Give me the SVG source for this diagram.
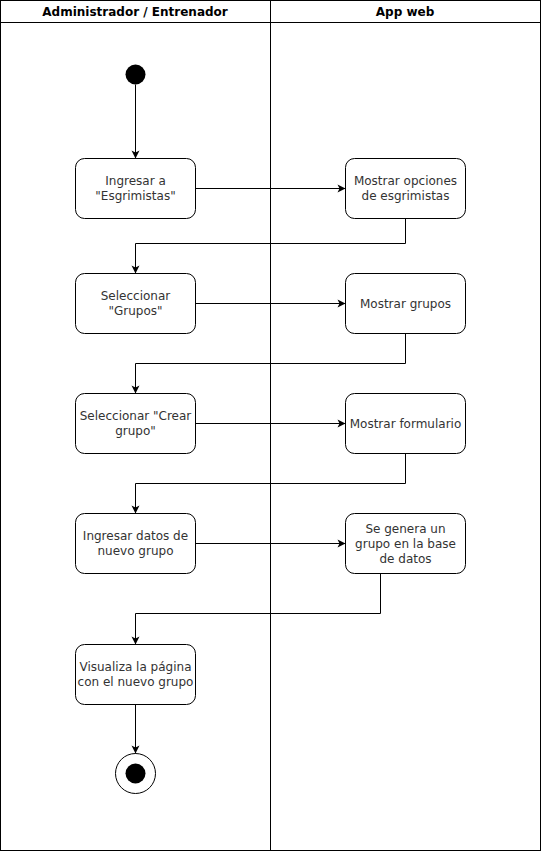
<svg xmlns="http://www.w3.org/2000/svg" width="541" height="851" viewBox="0 0 541 851">
<defs>
<marker id="arr" markerWidth="10" markerHeight="10" refX="9" refY="5" orient="auto" markerUnits="userSpaceOnUse">
<path d="M1,1 L9,5 L1,9 L3,5 Z" fill="#000"/>
</marker>
<style>
.lane{fill:#fff;stroke:#000;stroke-width:1}
.hdr{font-family:"DejaVu Sans",Verdana,sans-serif;font-size:12px;font-weight:bold;fill:#000;text-anchor:middle}
.node rect{fill:#fff;stroke:#000;stroke-width:1}
.node text{font-family:"DejaVu Sans",Verdana,sans-serif;font-size:12px;fill:#333;text-anchor:middle}
.conn path{fill:none;stroke:#000;stroke-width:1;marker-end:url(#arr)}
</style>
</defs>
<g id="swimlane">
<rect class="lane" x="0.5" y="0.5" width="540" height="850"/>
<line x1="0.5" y1="22.5" x2="540.5" y2="22.5" stroke="#000"/>
<line x1="270.5" y1="0.5" x2="270.5" y2="850.5" stroke="#000"/>
<text class="hdr" x="135" y="15.5">Administrador / Entrenador</text>
<text class="hdr" x="405" y="15.5">App web</text>
</g>
<g id="start"><circle cx="135.5" cy="74.5" r="10" fill="#000"/></g>
<g id="n1" class="node"><rect x="75.5" y="158.5" width="120" height="60" rx="9"/><text x="135.5" y="185">Ingresar a</text><text x="135.5" y="200">"Esgrimistas"</text></g>
<g id="n2" class="node"><rect x="345.5" y="158.5" width="120" height="60" rx="9"/><text x="405.5" y="185">Mostrar opciones</text><text x="405.5" y="200">de esgrimistas</text></g>
<g id="n3" class="node"><rect x="75.5" y="273.5" width="120" height="60" rx="9"/><text x="135.5" y="300">Seleccionar</text><text x="135.5" y="315">"Grupos"</text></g>
<g id="n4" class="node"><rect x="345.5" y="273.5" width="120" height="60" rx="9"/><text x="405.5" y="307.5">Mostrar grupos</text></g>
<g id="n5" class="node"><rect x="75.5" y="393.5" width="120" height="60" rx="9"/><text x="135.5" y="420">Seleccionar "Crear</text><text x="135.5" y="435">grupo"</text></g>
<g id="n6" class="node"><rect x="345.5" y="393.5" width="120" height="60" rx="9"/><text x="405.5" y="427.5">Mostrar formulario</text></g>
<g id="n7" class="node"><rect x="75.5" y="513.5" width="120" height="60" rx="9"/><text x="135.5" y="540">Ingresar datos de</text><text x="135.5" y="555">nuevo grupo</text></g>
<g id="n8" class="node"><rect x="345.5" y="513.5" width="120" height="60" rx="9"/><text x="405.5" y="532.5">Se genera un</text><text x="405.5" y="547.5">grupo en la base</text><text x="405.5" y="562.5">de datos</text></g>
<g id="n9" class="node"><rect x="75.5" y="644.5" width="120" height="60" rx="9"/><text x="135.5" y="671">Visualiza la página</text><text x="135.5" y="686">con el nuevo grupo</text></g>
<g id="end"><circle cx="135.5" cy="773.5" r="20" fill="#fff" stroke="#000"/><circle cx="135.5" cy="773.5" r="10" fill="#000"/></g>
<g id="connectors" class="conn">
<path d="M135.5,84.5 L135.5,158.5"/>
<path d="M195.5,188.5 L345.5,188.5"/>
<path d="M405.5,218.5 L405.5,243.5 L135.5,243.5 L135.5,273.5"/>
<path d="M195.5,303.5 L345.5,303.5"/>
<path d="M405.5,333.5 L405.5,363.5 L135.5,363.5 L135.5,393.5"/>
<path d="M195.5,423.5 L345.5,423.5"/>
<path d="M405.5,453.5 L405.5,483.5 L135.5,483.5 L135.5,513.5"/>
<path d="M195.5,543.5 L345.5,543.5"/>
<path d="M380.5,573.5 L380.5,613.5 L135.5,613.5 L135.5,644.5"/>
<path d="M135.5,704.5 L135.5,753.5"/>
</g>
</svg>
